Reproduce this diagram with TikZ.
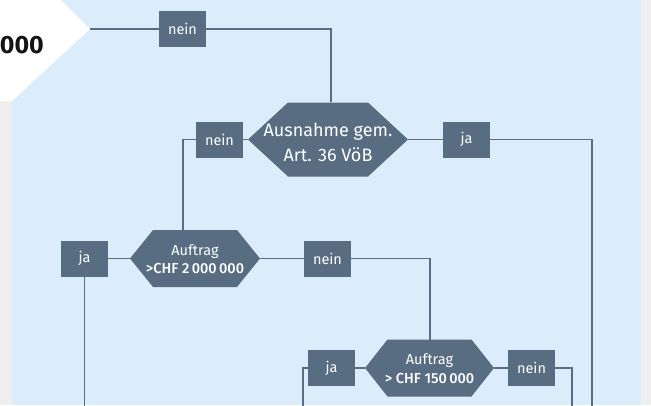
\documentclass[tikz,border=0pt]{standalone}
\usepackage{fontspec}
\setmainfont{Fira Sans}
\newfontfamily\medfont{Fira Sans Medium}
\definecolor{bgblue}{HTML}{DBEDFB}
\definecolor{slate}{HTML}{586D82}
\definecolor{sidegrey}{HTML}{EFEFEF}
\tikzset{
  lbl/.style={fill=slate, text=white, minimum width=47pt, minimum height=36pt, inner sep=0pt, font=\fontsize{14.5}{17}\selectfont},
  conn/.style={draw=slate, line width=1.3pt},
  hextext/.style={text=white, align=center, inner sep=0pt},
}
% name, cx, cy, halfwidth, chamfer dx, half height
\newcommand\hexshape[6]{%
  \fill[slate] (#2-#4,#3) -- (#2-#4+#5,#3-#6) -- (#2+#4-#5,#3-#6) -- (#2+#4,#3)
    -- (#2+#4-#5,#3+#6) -- (#2-#4+#5,#3+#6) -- cycle;
  \coordinate (#1-w) at (#2-#4,#3);
  \coordinate (#1-e) at (#2+#4,#3);
}
\begin{document}
\begin{tikzpicture}[x=1pt,y=-1pt]
\useasboundingbox (0,0) rectangle (651,405);
\fill[bgblue] (0,0) rectangle (651,405);
\fill[sidegrey] (0,101) rectangle (12,405);
\fill[sidegrey] (641,0) rectangle (651,405);
\fill[white] (0,0) -- (61,0) -- (90,29) -- (12,101) -- (0,101) -- cycle;
\coordinate (tip) at (90,29);
\node[anchor=base east, font=\fontsize{25}{30}\selectfont\bfseries, text=black!92, inner sep=0pt] (amount) at (44,53) {000};

% hexagons
\hexshape{h1}{328}{139.5}{80}{40}{37}
\hexshape{h2}{195}{258.5}{65}{23}{28.5}
\hexshape{h3}{429.5}{368}{64.5}{22.5}{28.5}
\node[hextext, font=\fontsize{18}{25}\selectfont] (h1) at (328,142) {Ausnahme gem.\\Art. 36 VöB};
\node[hextext, font=\fontsize{14.5}{18.5}\selectfont] (h2) at (195,259) {Auftrag\\{\medfont >CHF 2\,000\,000}};
\node[hextext, font=\fontsize{14.5}{18.5}\selectfont] (h3) at (429.5,368.5) {Auftrag\\{\medfont > CHF 150\,000}};

% entry and exit points
\coordinate (e1) at (331,102);
\coordinate (e2) at (183,230);
\coordinate (e3) at (430,340);
\coordinate (b1) at (592,406);
\coordinate (b2) at (84.5,406);
\coordinate (b3) at (303,406);
\coordinate (b4) at (572,406);

% label boxes
\node[lbl] (n1) at (182.5,29) {nein};
\node[lbl] (n2) at (219.5,139.5) {nein};
\node[lbl] (j1) at (466.5,139.5) {ja};
\node[lbl] (j2) at (84.5,258.5) {ja};
\node[lbl] (n3) at (327.5,258.5) {nein};
\node[lbl] (j3) at (331.5,368) {ja};
\node[lbl] (n4) at (531.5,368) {nein};

% connectors
\draw[conn] (tip) -- (n1.west);
\draw[conn] (n1.east) -| (e1);
\draw[conn] (h1-w) -- (n2.east);
\draw[conn] (n2.west) -| (e2);
\draw[conn] (h1-e) -- (j1.west);
\draw[conn] (j1.east) -| (b1);
\draw[conn] (h2-w) -- (j2.east);
\draw[conn] (j2.south) -- (b2);
\draw[conn] (h2-e) -- (n3.west);
\draw[conn] (n3.east) -| (e3);
\draw[conn] (h3-w) -- (j3.east);
\draw[conn] (j3.west) -| (b3);
\draw[conn] (h3-e) -- (n4.west);
\draw[conn] (n4.east) -| (b4);
\end{tikzpicture}
\end{document}
